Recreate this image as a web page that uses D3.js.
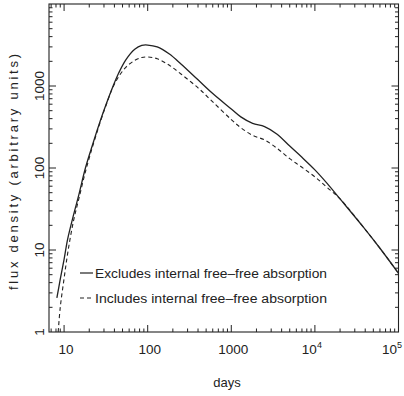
<!DOCTYPE html>
<html>
<head>
<meta charset="utf-8">
<script src="https://cdn.jsdelivr.net/npm/d3@7/dist/d3.min.js"></script>
<style>
  html, body { margin: 0; padding: 0; background: #fff; }
  svg { display: block; }
  text { font-family: "Liberation Sans", Arial, sans-serif; fill: #222; }
</style>
</head>
<body>
<svg id="chart" width="404" height="396"></svg>
<script>
// Days since explosion and model flux density (arbitrary units)
const excludesDays = [8.2, 9, 10, 11, 13, 15, 18, 22, 27, 33, 38.6, 45, 55, 70, 85, 100, 130, 180, 250, 400, 600, 1000, 1300, 1800, 2500, 3500, 5000, 7000, 10000, 14000, 20000, 38000, 60000, 100000];
const excludesFlux = [2.6, 4.4, 7.7, 13.4, 27, 47, 100, 195, 372, 660, 1000, 1440, 2100, 2810, 3130, 3160, 3000, 2470, 1860, 1190, 810, 525, 420, 350, 320, 260, 185, 135, 95, 65, 42, 19, 10.5, 5.2];

const includesDays = [8.5, 9, 10, 11.2, 13, 15, 18, 22, 27, 33, 38.6, 45, 55, 70, 85, 100, 130, 180, 250, 400, 600, 1000, 1300, 1800, 2500, 3500, 5000, 7000, 10000, 14000, 20000, 38000, 60000, 100000];
const includesFlux = [1.0, 2.0, 4.5, 10, 23, 42, 90, 185, 360, 650, 980, 1300, 1700, 2050, 2230, 2260, 2150, 1800, 1400, 950, 640, 390, 310, 250, 220, 175, 130, 102, 78, 58, 42, 19, 10.5, 5.2];

const xTickValues = [10, 100, 1000, 1e4, 1e5];
const yTickValues = [1, 10, 100, 1000];
const legendLabels = ["Excludes internal free\u2013free absorption", "Includes internal free\u2013free absorption"];

const svg = d3.select("#chart");
const plotLeft = 49, plotRight = 398.5, plotTop = 4, plotBottom = 332;

const x = d3.scaleLog().domain([6.6, 1e5]).range([plotLeft, plotRight]);
const y = d3.scaleLog().domain([1, 1e4]).range([plotBottom, plotTop]);

const ink = "#222";

// minor tick values for each decade
function minorTicks(lo, hi) {
  const out = [];
  for (let e = Math.floor(Math.log10(lo)); e <= Math.ceil(Math.log10(hi)); e++) {
    for (let m = 1; m < 10; m++) {
      const v = m * Math.pow(10, e);
      if (v >= lo * 1.0001 && v <= hi * 0.9999) out.push(v);
    }
  }
  return out;
}
const isDecade = v => Math.abs(Math.log10(v) - Math.round(Math.log10(v))) < 1e-9;

const g = svg.append("g");

// Frame
g.append("rect")
  .attr("x", plotLeft).attr("y", plotTop)
  .attr("width", plotRight - plotLeft).attr("height", plotBottom - plotTop)
  .attr("fill", "none").attr("stroke", ink).attr("stroke-width", 1.1);

// Inward ticks on all four sides
const xt = minorTicks(x.domain()[0], x.domain()[1]);
const yt = minorTicks(y.domain()[0], y.domain()[1]);
const ticks = g.append("g").attr("stroke", ink).attr("stroke-width", 1);
xt.forEach(v => {
  const len = isDecade(v) ? 7 : 3.5;
  const px = x(v);
  ticks.append("line").attr("x1", px).attr("x2", px).attr("y1", plotBottom).attr("y2", plotBottom - len);
  ticks.append("line").attr("x1", px).attr("x2", px).attr("y1", plotTop).attr("y2", plotTop + len);
});
yt.forEach(v => {
  const len = isDecade(v) ? 7 : 3.5;
  const py = y(v);
  ticks.append("line").attr("y1", py).attr("y2", py).attr("x1", plotLeft).attr("x2", plotLeft + len);
  ticks.append("line").attr("y1", py).attr("y2", py).attr("x1", plotRight).attr("x2", plotRight - len);
});

// X tick labels; the last one is kept inside the page edge
const xl = g.append("g").attr("font-size", 13.5);
xTickValues.forEach((v, i) => {
  const e = Math.round(Math.log10(v));
  const last = i === xTickValues.length - 1;
  const t = xl.append("text")
    .attr("text-anchor", last ? "end" : "middle")
    .attr("x", last ? 402 : x(v) + (e >= 4 ? -3 : 2))
    .attr("y", 354);
  if (e >= 4) {
    t.append("tspan").text("10");
    t.append("tspan").attr("dy", -6).attr("font-size", 9).text(String(e));
  } else {
    t.text(String(v));
  }
});

// Y tick labels, rotated
const yl = g.append("g").attr("font-size", 13.5).attr("text-anchor", "middle");
yTickValues.forEach(v => {
  yl.append("text")
    .attr("transform", `translate(44,${y(v)}) rotate(-90)`)
    .text(String(v));
});

// Axis titles
g.append("text").attr("x", 227).attr("y", 387).attr("font-size", 13)
  .attr("text-anchor", "middle").text("days");
g.append("text").attr("transform", `translate(18,${(plotTop + plotBottom) / 2 + 4}) rotate(-90)`)
  .attr("font-size", 13).attr("text-anchor", "middle")
  .attr("textLength", 236).attr("lengthAdjust", "spacing")
  .text("flux density (arbitrary units)");

// Curves
const line = d3.line()
  .x(d => x(d[0])).y(d => y(d[1]))
  .curve(d3.curveCatmullRom.alpha(0.5));

const plot = g.append("g");
plot.append("path")
  .datum(d3.zip(excludesDays, excludesFlux))
  .attr("d", line).attr("fill", "none")
  .attr("stroke", ink).attr("stroke-width", 1.3);

plot.append("path")
  .datum(d3.zip(includesDays, includesFlux))
  .attr("d", line).attr("fill", "none")
  .attr("stroke", ink).attr("stroke-width", 1.1)
  .attr("stroke-dasharray", "4,3");

// Legend
const legend = g.append("g");
const rows = [{ y: 273, dash: null }, { y: 298, dash: "4,3" }];
rows.forEach((r, i) => {
  legend.append("line")
    .attr("x1", 80).attr("x2", 93).attr("y1", r.y).attr("y2", r.y)
    .attr("stroke", ink).attr("stroke-width", 1.2)
    .attr("stroke-dasharray", r.dash);
  legend.append("text")
    .attr("x", 95).attr("y", r.y + 5).attr("font-size", 12.5)
    .attr("textLength", 232).attr("lengthAdjust", "spacingAndGlyphs")
    .text(legendLabels[i]);
});
</script>
</body>
</html>
